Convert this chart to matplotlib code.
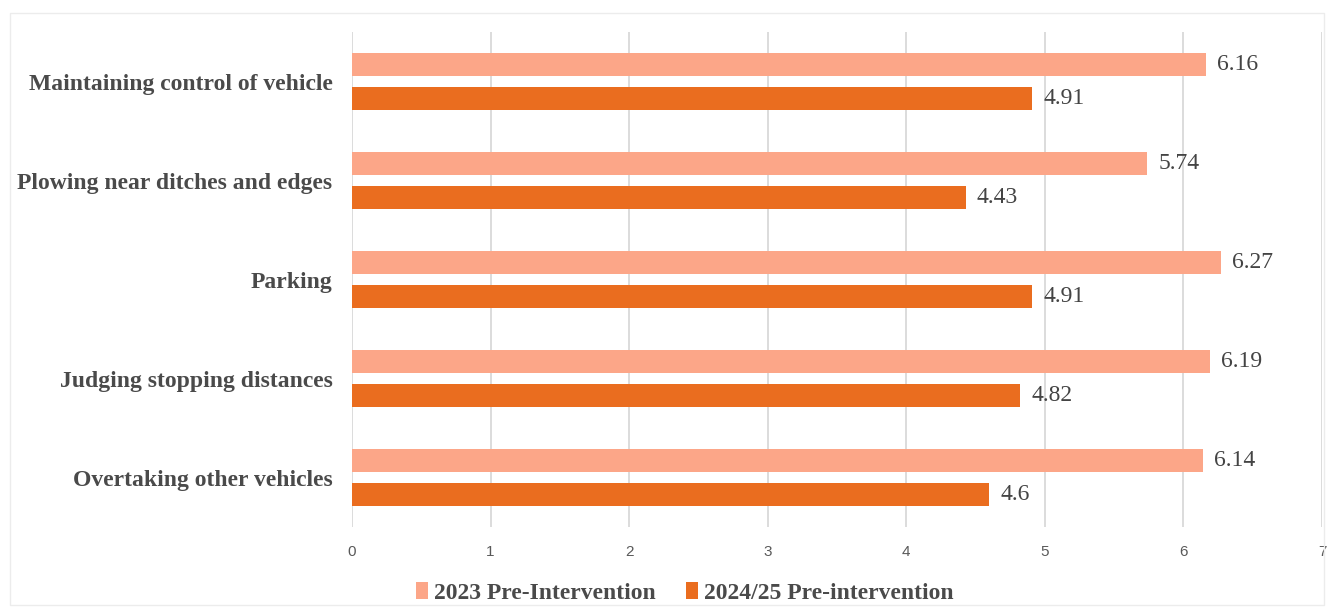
import matplotlib
matplotlib.use("Agg")
import matplotlib.pyplot as plt
import numpy as np

# データ
categories = ["Maintaining control of vehicle", "Plowing near ditches and edges",
              "Parking", "Judging stopping distances", "Overtaking other vehicles"]
pre_2023 = [6.16, 5.74, 6.27, 6.19, 6.14]
pre_2024 = [4.91, 4.43, 4.91, 4.82, 4.6]
labels_2023 = ["6.16", "5.74", "6.27", "6.19", "6.14"]
labels_2024 = ["4.91", "4.43", "4.91", "4.82", "4.6"]
series_names = ["2023 Pre-Intervention", "2024/25 Pre-intervention"]

c_light = "#FCA688"
c_dark = "#EA6D1F"
serif = ["Liberation Serif", "DejaVu Serif"]
narrow = ["Liberation Sans Narrow", "Liberation Sans", "DejaVu Sans"]

fig = plt.figure(figsize=(13.3, 6.1), dpi=100)
ax = fig.add_axes([0.2647, 0.136, 0.7293, 0.8115])

y = np.arange(len(categories))
h = 0.228
off = 0.17
b1 = ax.barh(y - off, pre_2023, height=h, color=c_light, label=series_names[0], zorder=3)
b2 = ax.barh(y + off, pre_2024, height=h, color=c_dark, label=series_names[1], zorder=3)

for bars, labs in ((b1, labels_2023), (b2, labels_2024)):
    for bar, lab in zip(bars, labs):
        ax.text(bar.get_width() + 0.08, bar.get_y() + bar.get_height() / 2, lab,
                va="center", ha="left", fontsize=17, color="#444444", family=serif)

ax.set_xlim(0, 7)
ax.set_ylim(len(categories) - 0.5, -0.5)
ax.set_xticks(range(8))
ax.set_xticklabels([str(i) for i in range(8)], family=narrow, fontsize=11, color="#595959")
ax.set_yticks(y)
ax.set_yticklabels(categories, family=serif, fontsize=17, fontweight="bold", color="#4a4a4a")
ax.tick_params(axis="both", length=0)
ax.tick_params(axis="y", pad=14)
ax.tick_params(axis="x", pad=13)
ax.grid(axis="x", color="#d9d9d9", linewidth=1.3, zorder=0)
for s in ax.spines.values():
    s.set_visible(False)

leg = fig.legend(handles=[b1, b2], loc="center", bbox_to_anchor=(0.515, 0.028), ncol=2,
                 frameon=False, handlelength=0.5, handleheight=0.75, handletextpad=0.25,
                 columnspacing=1.3,
                 prop={"family": serif, "size": 17, "weight": "bold"})
for t in leg.get_texts():
    t.set_color("#4a4a4a")

# 外枠
fig.patches.append(plt.Rectangle((0.0075, 0.008), 0.988, 0.97, transform=fig.transFigure,
                                 fill=False, edgecolor="#ececec", linewidth=1))

fig.savefig("out.png", dpi=100)
